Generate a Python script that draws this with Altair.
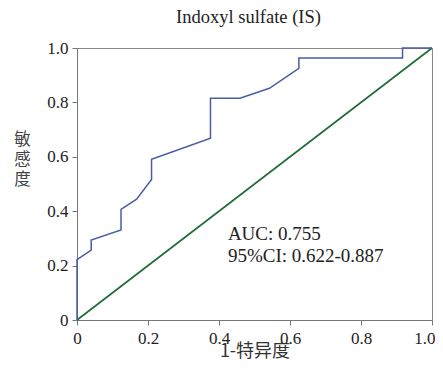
import altair as alt
import pandas as pd

fpr = [0.0, 0.0, 0.04, 0.04, 0.124, 0.124, 0.168, 0.21, 0.21, 0.376, 0.376, 0.459, 0.542, 0.625, 0.625, 0.917, 0.917, 1.0]
tpr = [0.0, 0.222, 0.257, 0.294, 0.331, 0.407, 0.444, 0.517, 0.591, 0.668, 0.815, 0.815, 0.852, 0.925, 0.963, 0.963, 1.0, 1.0]
diag_x = [0.0, 1.0]
diag_y = [0.0, 1.0]
ticks = [0, 0.2, 0.4, 0.6, 0.8, 1.0]
title = "Indoxyl sulfate (IS)"
x_title = "1-特异度"
y_title = ["敏", "感", "度"]
annot = ["AUC: 0.755", "95%CI: 0.622-0.887"]

roc = pd.DataFrame({"fpr": fpr, "tpr": tpr, "order": list(range(len(fpr)))})
diag = pd.DataFrame({"fpr": diag_x, "tpr": diag_y})
ann = pd.DataFrame({"x": [0.425, 0.425], "y": [0.318, 0.235], "t": annot})

serif = "Liberation Serif"
lab = "datum.value == 0 ? '0' : format(datum.value, '.1f')"

xs = alt.Scale(domain=[0, 1], nice=False)
ys = alt.Scale(domain=[0, 1], nice=False)

xax = alt.Axis(values=ticks, labelExpr=lab, title=x_title, grid=False,
               labelFont=serif, labelFontSize=17, labelColor="#222",
               labelAlign={"condition": {"test": "datum.value == 1", "value": "right"}, "value": "center"},
               labelOffset={"condition": {"test": "datum.value == 1", "value": 3}, "value": 0},
               titleFont="Noto Sans CJK SC", titleFontSize=18, titleFontWeight="normal", titleColor="#333",
               titleBaseline="bottom", titleY=40,
               labelPadding=5, tickSize=5, tickColor="#777", domainColor="#777",
               labelFlush=False)
yax = alt.Axis(values=ticks, labelExpr=lab, title=y_title, grid=False,
               labelFont=serif, labelFontSize=17, labelColor="#222",
               titleFont="Noto Sans CJK SC", titleFontSize=16.5, titleFontWeight="normal", titleColor="#444",
               titleAngle=0, titleX=-55, titleY=83, titleAlign="center", titleBaseline="top",
               titleLineHeight=20,
               labelPadding=4, tickSize=5, tickColor="#777", domainColor="#777")

line = alt.Chart(roc).mark_line(color="#4a5ca6", strokeWidth=1.5).encode(
    x=alt.X("fpr:Q", scale=xs, axis=xax),
    y=alt.Y("tpr:Q", scale=ys, axis=yax),
    order="order:Q",
)
dline = alt.Chart(diag).mark_line(color="#1e6b35", strokeWidth=1.6).encode(
    x=alt.X("fpr:Q", scale=xs),
    y=alt.Y("tpr:Q", scale=ys),
)
txt = alt.Chart(ann).mark_text(align="left", baseline="middle", font=serif, fontSize=19, color="#222").encode(
    x=alt.X("x:Q", scale=xs),
    y=alt.Y("y:Q", scale=ys),
    text="t:N",
)

chart = alt.layer(dline, line, txt).properties(
    width=355, height=272,
    title=alt.TitleParams(title, font=serif, fontSize=18.5, fontWeight="normal", color="#222", offset=13, dx=-6),
    autosize=alt.AutoSizeParams(type="none"),
    padding={"left": 69, "top": 40, "right": 3, "bottom": 41},
).configure_view(stroke="#888", strokeWidth=1)

chart.save("out.html", embed_options={"renderer": "svg", "actions": False})
